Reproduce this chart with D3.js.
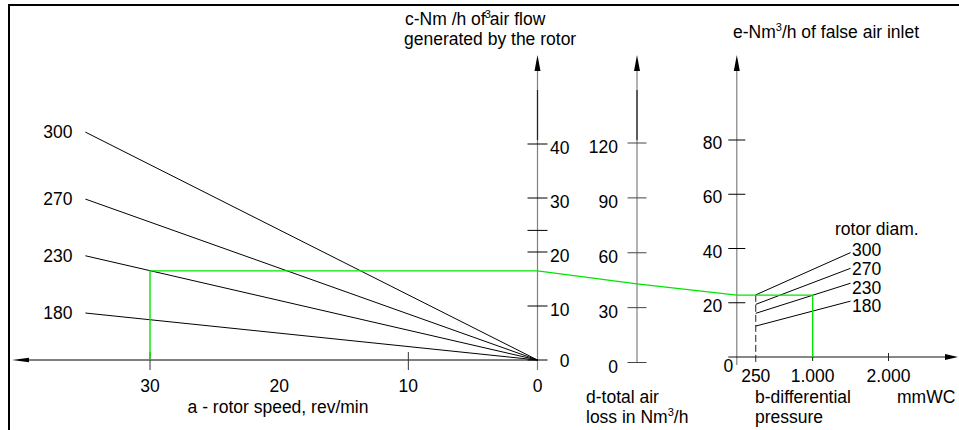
<!DOCTYPE html>
<html><head><meta charset="utf-8">
<script src="https://cdn.jsdelivr.net/npm/d3@7"></script>
<style>
body{margin:0;background:#fff;overflow:hidden;}
text{font-family:"Liberation Sans",Arial,sans-serif;font-size:17.5px;fill:#000;}
</style>
</head><body><svg id="chart" width="959" height="430"></svg>
<script>
// ---- data ----
const rotorDiams = [300, 270, 230, 180];
const speedAtLineStart = 35;                 // rev/min at the left end of the rotor lines
const airFlowAtStart = [42.2, 29.8, 19.3, 8.7]; // c value at 35 rev/min
const pressureStart = 250, pressureEnd = 1500;
const falseAirAtStart = [22.9, 19.4, 16.1, 11.4]; // e value at 250 mmWC
const falseAirAtEnd = [38.5, 32.7, 27.2, 20.6];   // e value at 1500 mmWC
const speedTickMarks = [30, 10];
const speedTickLabels = [30, 20, 10, 0];
const flowTicks = [10, 20, 30, 40];
const flowMinorTicks = [24];
const lossTicks = [0, 30, 60, 90, 120];
const falseAirTicks = [20, 40, 60, 80];
const pressureTicks = [250, 1000, 2000];
const pressureTickLabels = ["250", "1.000", "2.000"];
// worked example (green)
const exSpeed = 30, exFlow = 16.5, exLoss = 43, exFalseAir = 22.8, exPressure = 1000;

// ---- scales ----
const xA = d3.scaleLinear().domain([0, 30]).range([537.5, 150]);
const yC = d3.scaleLinear().domain([0, 40]).range([360, 144]);
const yD = d3.scaleLinear().domain([0, 120]).range([362.5, 143]);
const yE = d3.scaleLinear().domain([0, 80]).range([357, 140]);
const xB = d3.scaleLinear().domain([0, 2000]).range([736.8, 888.5]);
const cX = xA(0), dX = 637, eX = xB(0);
const axisTop = 55;

const svg = d3.select("#chart");
// border
svg.append("rect").attr("x", 9).attr("y", 5).attr("width", 1000).attr("height", 1000)
  .attr("fill", "none").attr("stroke", "#000").attr("stroke-width", 2);

function upArrow(x) {
  svg.append("path").attr("d", `M${x-3},${axisTop+16}L${x},${axisTop}L${x+3},${axisTop+16}Z`).attr("fill", "#000");
}
function line(x1, y1, x2, y2, color, w) {
  return svg.append("line").attr("x1", x1).attr("y1", y1).attr("x2", x2).attr("y2", y2)
    .attr("stroke", color || "#000").attr("stroke-width", w || 1);
}

// ---- a axis (rotor speed) ----
const aY = yC(0);
line(28, aY, cX, aY, "#000", 1);
svg.append("path").attr("d", `M29,${aY-2.2}L12,${aY}L29,${aY+2.2}Z`).attr("fill", "#000");
speedTickMarks.forEach(v => line(xA(v), aY - 8, xA(v), aY + 10, "#333", 1));
svg.selectAll(".alab").data(speedTickLabels).enter().append("text")
  .attr("x", d => xA(d)).attr("y", aY + 32).attr("text-anchor", "middle").text(d => d);
svg.append("text").attr("x", 278).attr("y", 413).attr("text-anchor", "middle").text("a - rotor speed, rev/min");

// ---- c axis (air flow) ----
line(cX, yC(0) + 10, cX, axisTop + 10, "#808080", 1.2);
line(cX, axisTop + 35, cX, axisTop + 85, "#222", 1.2);
upArrow(cX);
line(cX - 10, yC(0), cX + 10, yC(0), "#000", 1);
flowTicks.concat(flowMinorTicks).forEach(v => line(cX - 10, yC(v), cX + 10, yC(v), "#000", 1));
svg.selectAll(".clab").data([0].concat(flowTicks)).enter().append("text")
  .attr("x", cX + 32).attr("y", d => yC(d) + (d === 0 ? 6.5 : 10)).attr("text-anchor", "end").text(d => d);
const cT = svg.append("text").attr("x", 405).attr("y", 25);
cT.append("tspan").text("c-Nm /h of");
cT.append("tspan").attr("dy", -7).attr("dx", -1).style("font-size", "11px").text("3");
cT.append("tspan").attr("dy", 7).attr("dx", -1).text("air flow");
svg.append("text").attr("x", 404).attr("y", 45).text("generated by the rotor");

// ---- d axis (total air loss) ----
line(dX, yD(0), dX, axisTop + 10, "#808080", 1.2);
line(dX, axisTop + 35, dX, axisTop + 85, "#222", 1.2);
upArrow(dX);
lossTicks.forEach(v => line(dX - 9.5, yD(v), dX + 9.5, yD(v), "#444", 1));
svg.selectAll(".dlab").data(lossTicks).enter().append("text")
  .attr("x", dX - 19).attr("y", d => yD(d) + 10).attr("text-anchor", "end").text(d => d);
svg.append("text").attr("x", 586).attr("y", 403).text("d-total air");
const dT = svg.append("text").attr("x", 586).attr("y", 423);
dT.append("tspan").text("loss in Nm");
dT.append("tspan").attr("dy", -7).style("font-size", "11px").text("3");
dT.append("tspan").attr("dy", 7).text("/h");

// ---- e axis (false air) and b axis (pressure) ----
line(eX, yE(0) + 8, eX, axisTop + 10, "#808080", 1.2);
upArrow(eX);
falseAirTicks.forEach(v => line(eX - 8.5, yE(v), eX + 8.5, yE(v), "#000", 1));
svg.selectAll(".elab").data(falseAirTicks).enter().append("text")
  .attr("x", eX - 14.5).attr("y", d => yE(d) + 9).attr("text-anchor", "end").text(d => d);
svg.append("text").attr("x", eX - 3.5).attr("y", yE(0) + 15).attr("text-anchor", "end").text("0");
const eT = svg.append("text").attr("x", 733).attr("y", 38);
eT.append("tspan").text("e-Nm");
eT.append("tspan").attr("dy", -7).style("font-size", "11px").text("3");
eT.append("tspan").attr("dy", 7).text("/h of false air inlet");

const bY = yE(0);
line(eX - 8.5, bY, 946, bY, "#111", 1.2);
svg.append("path").attr("d", `M945,${bY-3}L958,${bY}L945,${bY+3}Z`).attr("fill", "#000");
pressureTicks.slice(1).forEach(v => line(xB(v), bY - 4, xB(v), bY + 4, "#222", 1));
svg.selectAll(".blab").data(pressureTicks).enter().append("text")
  .attr("x", d => xB(d)).attr("y", bY + 24.5).attr("text-anchor", "middle")
  .text((d, i) => pressureTickLabels[i]);
svg.append("text").attr("x", 755).attr("y", 403).text("b-differential");
svg.append("text").attr("x", 755).attr("y", 423).text("pressure");
svg.append("text").attr("x", 897).attr("y", 403).text("mmWC");

// ---- rotor lines (left) ----
rotorDiams.forEach((d, i) => {
  line(xA(speedAtLineStart), yC(airFlowAtStart[i]), xA(0), yC(0), "#000", 1);
  svg.append("text").attr("x", xA(speedAtLineStart) - 13).attr("y", yC(airFlowAtStart[i]) + 6.3)
    .attr("text-anchor", "end").text(d);
});

// ---- false-air rotor lines (right) ----
line(xB(pressureStart), yE(falseAirAtStart[0]), xB(pressureStart), bY + 5, "#222", 1)
  .attr("stroke-dasharray", "7,3");
const labelTop = yE(falseAirAtEnd[0]) - 2.7;
rotorDiams.forEach((d, i) => {
  line(xB(pressureStart), yE(falseAirAtStart[i]), xB(pressureEnd), yE(falseAirAtEnd[i]), "#000", 1);
  svg.append("text").attr("x", xB(pressureEnd) + 1.5).attr("y", labelTop + i * 18.7 + 6.3)
    .text(d);
});
svg.append("text").attr("x", 835).attr("y", 235).text("rotor diam.");

// ---- green worked example ----
const green = "#00e600";
const gPath = d3.line()([
  [xA(exSpeed), yC(0)],
  [xA(exSpeed), yC(exFlow)],
  [cX, yC(exFlow)],
  [dX, yD(exLoss)],
  [eX, yE(exFalseAir)],
  [xB(exPressure), yE(exFalseAir)],
  [xB(exPressure), yE(0)]
]);
svg.append("path").attr("d", gPath).attr("fill", "none").attr("stroke", green).attr("stroke-width", 1.4);
</script>
</body></html>
